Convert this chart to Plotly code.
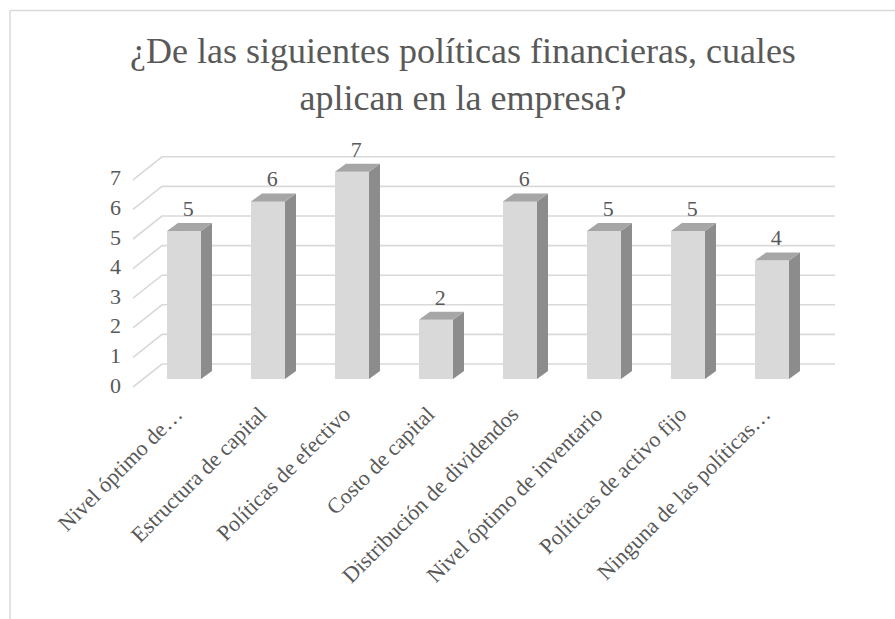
import plotly.graph_objects as go

categories = ["Nivel óptimo de…", "Estructura de capital", "Políticas de efectivo",
              "Costo de capital", "Distribución de dividendos",
              "Nivel óptimo de inventario", "Políticas de activo fijo",
              "Ninguna de las políticas…"]
values = [5, 6, 7, 2, 6, 5, 5, 4]
y_ticks = [0, 1, 2, 3, 4, 5, 6, 7]
title_text = "¿De las siguientes políticas financieras, cuales<br>aplican en la empresa?"

FONT = "'Times New Roman', 'Liberation Serif', Tinos, 'DejaVu Serif', serif"
TXT = "#595959"
FRONT = "#D9D9D9"
SIDE = "#8C8C8C"
TOP = "#A6A6A6"
GRID = "#D9D9D9"

W, H = 895, 619
L, R, T, B = 132, 60, 150, 229
px_per_cat = 84.0
px_per_unit = 29.6

xs = list(range(len(categories)))
bar_w = 0.405
dx = 11 / px_per_cat        # depth offset of bar side in x data units
dy = 8 / px_per_unit        # depth offset of bar side in y data units

x_lo = (L - 184) / px_per_cat
x_hi = (W - R - 184) / px_per_cat
y_lo = (379 - (H - B)) / px_per_unit
y_hi = (379 - T) / px_per_unit

fig = go.Figure()
fig.add_trace(go.Bar(x=xs, y=values, width=bar_w, marker=dict(color=FRONT, line=dict(width=0)),
                     hoverinfo="skip", showlegend=False))
fig.add_trace(go.Scatter(x=[x + 0.05 for x in xs], y=[v + 0.7 for v in values], mode="text",
                         text=[str(v) for v in values], cliponaxis=False,
                         textfont=dict(family=FONT, size=22, color=TXT),
                         hoverinfo="skip", showlegend=False))

shapes = []
# back-wall gridlines with perspective diagonal on left wall
wall_dx_front = (133 - 184) / px_per_cat
wall_dx_back = (162 - 184) / px_per_cat
for v in y_ticks:
    y_front = v - 8 / px_per_unit
    y_back = v + 15 / px_per_unit
    shapes.append(dict(type="path", xref="x", yref="y", layer="below",
                       path=f"M {wall_dx_front},{y_front} L {wall_dx_back},{y_back} L {x_hi},{y_back}",
                       line=dict(color=GRID, width=1.6)))

for x, v in zip(xs, values):
    x0 = x - bar_w / 2
    x1 = x + bar_w / 2
    # side face
    shapes.append(dict(type="path", xref="x", yref="y", layer="above",
                       path=f"M {x1},0 L {x1+dx},{dy} L {x1+dx},{v+dy} L {x1},{v} Z",
                       fillcolor=SIDE, line=dict(width=0)))
    # top face
    shapes.append(dict(type="path", xref="x", yref="y", layer="above",
                       path=f"M {x0},{v} L {x0+dx},{v+dy} L {x1+dx},{v+dy} L {x1},{v} Z",
                       fillcolor=TOP, line=dict(width=0)))

fig.update_layout(
    width=W, height=H, autosize=False,
    margin=dict(l=L, r=R, t=T, b=B),
    paper_bgcolor="white", plot_bgcolor="white",
    shapes=shapes,
    font=dict(family=FONT, color=TXT),
    title=dict(text=title_text, x=463 / W, xanchor="center", xref="container",
               y=1 - 63 / H, yanchor="middle", yref="container",
               font=dict(family=FONT, size=36, color=TXT)),
    xaxis=dict(range=[x_lo, x_hi], tickvals=xs, ticktext=categories, tickangle=-45,
               showgrid=False, zeroline=False, showline=False, ticks="",
               ticklabelshift=-8, ticklabelstandoff=6,
               tickfont=dict(family=FONT, size=22, color=TXT), fixedrange=True),
    yaxis=dict(range=[y_lo, y_hi], tickvals=[v - 0.2 for v in y_ticks],
               ticktext=[str(v) for v in y_ticks], ticklabelstandoff=10,
               showgrid=False, zeroline=False, showline=False, ticks="",
               tickfont=dict(family=FONT, size=22, color=TXT), fixedrange=True),
    bargap=0,
)

# outer chart frame lines (light gray) at left and top, as in the reference crop
pw = W - L - R
ph = H - T - B
fig.add_shape(type="line", xref="paper", yref="paper", x0=-(L - 10) / pw, x1=-(L - 10) / pw,
              y0=-B / ph, y1=1 + (T - 10.5) / ph,
              line=dict(color="#D9D9D9", width=1.5), layer="below")
fig.add_shape(type="line", xref="paper", yref="paper", x0=-(L - 10) / pw, x1=1 + R / pw,
              y0=1 + (T - 10.5) / ph, y1=1 + (T - 10.5) / ph,
              line=dict(color="#D9D9D9", width=1.5), layer="below")

fig.write_html("out.html")
